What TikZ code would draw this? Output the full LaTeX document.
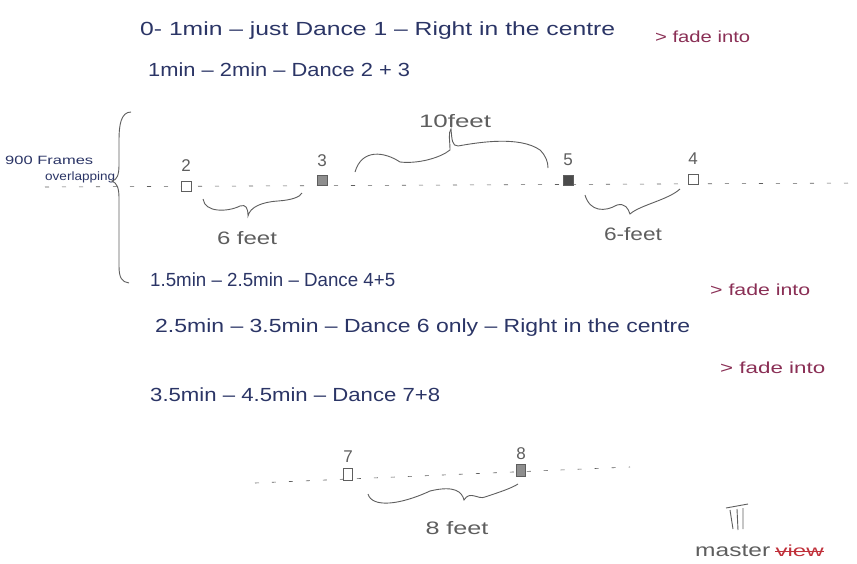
\documentclass[tikz,border=0pt]{standalone}
\usepackage{fontspec}
\setmainfont{Liberation Sans}
\usepackage{xcolor}
\usepackage{graphicx}
\definecolor{ink}{HTML}{2B3566}
\definecolor{pencil}{HTML}{5E5E5E}
\definecolor{fade}{HTML}{8A2F55}
\definecolor{redink}{HTML}{C0303A}
\newcommand\fitw[2]{\resizebox{#1}{\height}{#2}}
\begin{document}
\begin{tikzpicture}[x=1pt,y=-1pt,
  line/.style={anchor=west,text=ink,font=\fontsize{19}{21}\selectfont,inner sep=0pt},
  fadetxt/.style={anchor=west,text=fade,font=\fontsize{16}{18}\selectfont,inner sep=0pt},
  lbl/.style={text=pencil,font=\fontsize{17}{19}\selectfont,inner sep=0pt},
  dist/.style={text=pencil,font=\fontsize{18}{20}\selectfont,inner sep=0pt},
  stage/.style={pencil,line width=0.6pt,dash pattern=on 4pt off 13pt},
  brc/.style={pencil,line width=0.9pt},
  openbox/.style={draw=pencil,line width=0.9pt,minimum size=10pt,inner sep=0pt,fill=white},
  fullbox/.style={draw=pencil,line width=0.9pt,minimum size=10pt,inner sep=0pt,fill=pencil!80!black},
  halfbox/.style={draw=pencil,line width=0.9pt,minimum size=10pt,inner sep=0pt,fill=pencil!70}]
\useasboundingbox (0,0) rectangle (857,563);
\fill[white] (0,0) rectangle (857,563);

% text lines
\node[line] (t1) at (140,31) {\fitw{475pt}{0- 1min – just Dance 1 – Right in the centre}};
\node[fadetxt] (f1) at (655,37) {\fitw{95pt}{> fade into}};
\node[line] (t2) at (148,70) {\fitw{262pt}{1min – 2min – Dance 2 + 3}};
\node[line] (t3) at (150,280) {\fitw{245pt}{1.5min – 2.5min – Dance 4+5}};
\node[fadetxt] (f2) at (710,290) {\fitw{100pt}{> fade into}};
\node[line] (t4) at (155,328) {\fitw{535pt}{2.5min – 3.5min – Dance 6 only – Right in the centre}};
\node[fadetxt] (f3) at (720,368) {\fitw{105pt}{> fade into}};
\node[line] (t5) at (150,395) {\fitw{290pt}{3.5min – 4.5min – Dance 7+8}};

% big brace + label
\node[anchor=west,text=ink,font=\fontsize{12}{13}\selectfont,inner sep=0pt] (fr1) at (5,160) {\fitw{88pt}{900 Frames}};
\node[anchor=west,text=ink,font=\fontsize{12}{13}\selectfont,inner sep=0pt] (fr2) at (45,177) {\fitw{70pt}{overlapping}};
\draw[brc] (131,112) .. controls (121,112) and (119,125) .. (119,140) -- (119,165)
  .. controls (119,175) and (117,180) .. (112,181) .. controls (117,183) and (119,188) .. (119,198)
  -- (119,266) .. controls (119,278) and (122,282) .. (129,283);

% upper stage
\coordinate (s1a) at (45,187);
\coordinate (s1b) at (857,183);
\draw[stage] (s1a) -- (s1b);
\node[openbox] (d2) at (186,186) {};
\node[halfbox] (d3) at (322,180) {};
\node[fullbox] (d5) at (568,180) {};
\node[openbox] (d4) at (693,179) {};
\node[lbl,anchor=south] (n2) at ([yshift=9pt]d2.north) {2};
\node[lbl,anchor=south] (n3) at ([yshift=8pt]d3.north) {3};
\node[lbl,anchor=south] (n5) at ([yshift=9pt]d5.north) {5};
\node[lbl,anchor=south] (n4) at ([yshift=9pt]d4.north) {4};

% braces upper
\draw[brc] (203,199) .. controls (205,213) and (228,212) .. (240,206) .. controls (246,204) and (248,208) .. (248,216)
  .. controls (250,207) and (262,202) .. (278,201) .. controls (292,200) and (300,197) .. (302,193);
\node[dist] (l23) at (247,238) {\fitw{60pt}{6 feet}};

\draw[brc] (355,172) .. controls (362,148) and (385,152) .. (400,162) .. controls (418,164) and (440,158) .. (450,150)
  .. controls (450,140) and (448,133) .. (451,129) .. controls (452,140) and (452,146) .. (458,146)
  .. controls (480,142) and (520,136) .. (540,150) .. controls (546,156) and (548,162) .. (548,168);
\node[dist] (l35) at (455,121) {\fitw{72pt}{10feet}};

\draw[brc] (585,195) .. controls (590,212) and (605,212) .. (617,205) .. controls (625,203) and (628,208) .. (630,214)
  .. controls (640,205) and (668,200) .. (680,189);
\node[dist] (l54) at (633,234) {\fitw{58pt}{6-feet}};

% lower stage
\coordinate (s2a) at (255,483);
\coordinate (s2b) at (630,467);
\draw[stage] (s2a) -- (s2b);
\node[openbox,minimum width=9pt,minimum height=12pt] (d7) at (348,474) {};
\node[halfbox,minimum width=9pt,minimum height=12pt] (d8) at (521,470) {};
\node[lbl,anchor=south] (n7) at ([yshift=5pt]d7.north) {7};
\node[lbl,anchor=south] (n8) at ([yshift=4pt]d8.north) {8};
\draw[brc] (368,494) .. controls (372,508) and (400,505) .. (430,491) .. controls (455,485) and (462,492) .. (464,500)
  .. controls (470,490) and (478,500) .. (485,497) .. controls (500,492) and (512,488) .. (518,484);
\node[dist] (l78) at (457,528) {\fitw{63pt}{8 feet}};

% master view
\node[anchor=west,text=pencil,font=\fontsize{18}{20}\selectfont,inner sep=0pt] (mst) at (695,551) {\fitw{75pt}{master}};
\node[anchor=west,text=redink,font=\fontsize{16}{18}\selectfont,inner sep=0pt] (vw) at ([xshift=5pt]mst.east) {\fitw{48pt}{view}};
\draw[redink,line width=0.9pt] (vw.west) -- (vw.east);
\draw[pencil,line width=0.9pt] (726,508) -- (748,504);
\draw[pencil,line width=0.9pt] (730,510) -- (733,529) (737,509) -- (738,530) (743,508) -- (743,529);
\end{tikzpicture}
\end{document}
